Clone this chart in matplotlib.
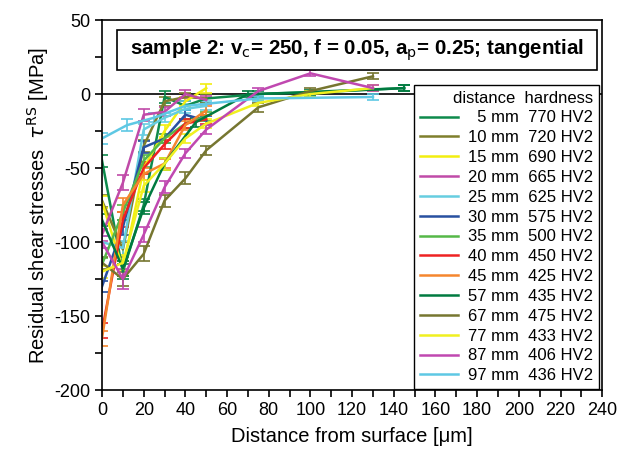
import matplotlib
matplotlib.use('Agg')
import matplotlib.pyplot as plt
from matplotlib.patches import Rectangle
from matplotlib.ticker import MultipleLocator

plt.rcParams['font.family'] = ['Liberation Sans', 'DejaVu Sans']
plt.rcParams['axes.unicode_minus'] = False

# series: distance label, hardness label, colour, depth [um], stress [MPa], error
distances = ['5 mm', '10 mm', '15 mm', '20 mm', '25 mm', '30 mm', '35 mm',
             '40 mm', '45 mm', '57 mm', '67 mm', '77 mm', '87 mm', '97 mm']
hardness = ['770 HV2', '720 HV2', '690 HV2', '665 HV2', '625 HV2', '575 HV2', '500 HV2',
            '450 HV2', '425 HV2', '435 HV2', '475 HV2', '433 HV2', '406 HV2', '436 HV2']
colors = ['#0e8a4c', '#7f7f2c', '#f2ee10', '#c04aa8', '#66cde0', '#2850a0', '#55b848',
          '#ee2222', '#f5862e', '#007a40', '#767630', '#f0f020', '#c048b0', '#5ec8e4']

depth = [
    [0, 10, 20, 30, 40, 50, 75, 145],
    [0, 10, 20, 30, 40, 50],
    [0, 10, 20, 30, 40, 50],
    [0, 10, 20, 30, 40, 50],
    [0, 10, 20, 30, 40, 50],
    [0, 10, 20, 30, 40, 50],
    [0, 10, 20, 30, 40, 50],
    [0, 10, 20, 30, 40, 50],
    [0, 10, 20, 30, 40, 50],
    [0, 10, 20, 30, 45, 70, 100, 145],
    [0, 10, 20, 30, 40, 50, 75, 100, 130],
    [0, 10, 20, 30, 40, 50, 75, 100, 130],
    [0, 10, 20, 30, 40, 50, 75, 100, 130],
    [0, 12, 25, 40, 75, 130],
]
stress = [
    [-45, -120, -75, -2, -8, -3, 0, 4],
    [-72, -105, -35, -5, -2, -3],
    [-73, -118, -50, -25, -5, 4],
    [-95, -60, -14, -12, 0, -4],
    [-100, -104, -24, -16, -10, -8],
    [-130, -90, -36, -30, -14, -18],
    [-115, -80, -45, -30, -20, -15],
    [-160, -85, -50, -34, -20, -17],
    [-165, -75, -54, -47, -21, -11],
    [-85, -118, -77, -47, -19, 0, 1, 4],
    [-114, -125, -108, -72, -57, -38, -9, 2, 12],
    [-120, -114, -62, -47, -30, -20, -6, 0, 4],
    [-100, -125, -95, -63, -40, -24, 2, 14, 4],
    [-30, -21, -16, -8, -3, -2],
]
errors = [
    [4, 5, 4, 4, 3, 3, 2, 2],
    [4, 5, 4, 3, 3, 3],
    [4, 5, 4, 4, 3, 3],
    [4, 5, 4, 3, 3, 3],
    [4, 5, 4, 3, 3, 3],
    [4, 5, 4, 3, 3, 3],
    [4, 5, 4, 3, 3, 3],
    [5, 5, 4, 3, 3, 3],
    [5, 5, 4, 3, 3, 3],
    [4, 5, 4, 4, 3, 2, 2, 2],
    [4, 5, 5, 4, 4, 3, 3, 2, 2],
    [4, 5, 4, 4, 3, 3, 2, 2, 2],
    [4, 7, 5, 4, 3, 3, 2, 2, 2],
    [4, 4, 3, 3, 2, 2],
]

fig = plt.figure(figsize=(6.26, 4.66), dpi=100)
ax = fig.add_axes([0.163, 0.163, 0.799, 0.794])

ax.axhline(0, color='black', lw=1.2, zorder=1)

handles = []
for i in range(len(distances)):
    eb = ax.errorbar(depth[i], stress[i], yerr=errors[i], color=colors[i], lw=1.8,
                     capsize=4, elinewidth=1.2, capthick=1.2, zorder=2)
    handles.append(eb.lines[0])

ax.set_xlim(0, 240)
ax.set_ylim(-200, 50)
ax.xaxis.set_major_locator(MultipleLocator(20))
ax.xaxis.set_minor_locator(MultipleLocator(10))
ax.yaxis.set_major_locator(MultipleLocator(50))
ax.yaxis.set_minor_locator(MultipleLocator(25))
ax.tick_params(which='both', direction='out', labelsize=13, width=1.2)
ax.tick_params(which='major', length=5)
ax.tick_params(which='minor', length=5)
ax.tick_params(top=False, right=False)
for s in ax.spines.values():
    s.set_linewidth(1.2)

ax.set_xlabel('Distance from surface [\u03bcm]', fontsize=14.5, labelpad=6)
ax.set_ylabel('Residual shear stresses  $\\tau^{\\rm RS}$ [MPa]', fontsize=14.5, labelpad=2)

# title box
ax.add_patch(Rectangle((0.03, 0.865), 0.96, 0.108, transform=ax.transAxes,
                       fc='white', ec='black', lw=1.2, zorder=5))
ax.text(0.51, 0.919, 'sample 2: v$_{\\rm c}$= 250, f = 0.05, a$_{\\rm p}$= 0.25; tangential',
        transform=ax.transAxes, ha='center', va='center', fontsize=14.8,
        fontweight='bold', zorder=6)

labels = ['%s  %s' % (d.rjust(5, '\u2007'), h) for d, h in zip(distances, hardness)]
leg = ax.legend(handles, labels, loc='upper right', bbox_to_anchor=(0.993, 0.825),
                fontsize=12, title='distance  hardness', title_fontsize=12,
                frameon=True, fancybox=False, edgecolor='black', framealpha=1,
                handlelength=2.3, handletextpad=0.55, labelspacing=0.29,
                borderpad=0.35, borderaxespad=0, alignment='right')
leg.get_frame().set_linewidth(1.0)

fig.savefig('out.png', dpi=100)
